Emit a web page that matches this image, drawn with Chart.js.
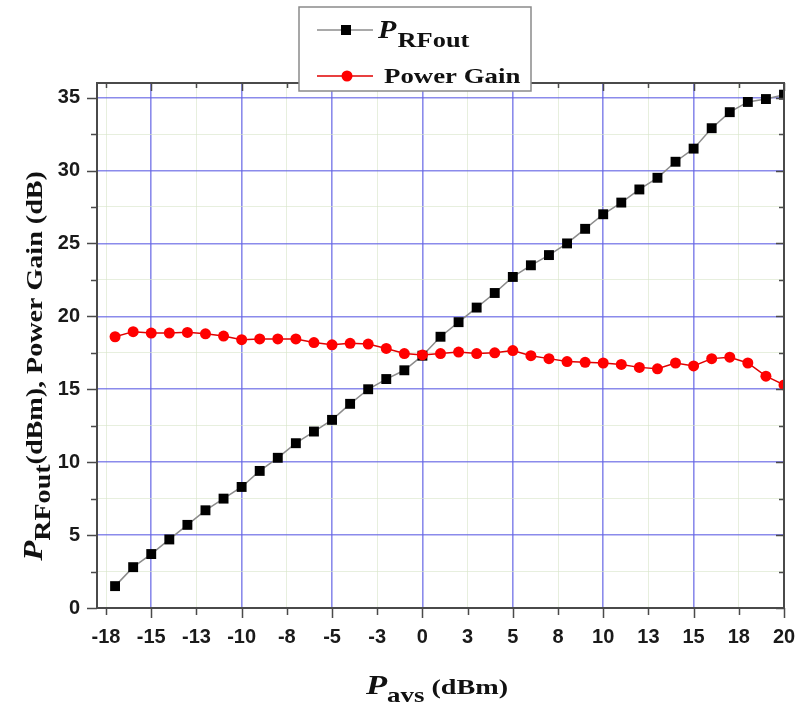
<!DOCTYPE html>
<html>
<head>
<meta charset="utf-8">
<script src="https://cdn.jsdelivr.net/npm/chart.js@4"></script>
<style>
  html, body { margin: 0; padding: 0; background: #ffffff; }
  canvas { display: block; }
</style>
</head>
<body>
<canvas id="chart" width="798" height="710"></canvas>
<script>
// Available source power (dBm)
const pavs = [-17, -16, -15, -14, -13, -12, -11, -10, -9, -8, -7, -6, -5,
              -4, -3, -2, -1, 0,
              1, 2, 3, 4, 5, 6, 7, 8, 9,
              10, 11, 12, 13, 14, 15, 16, 17, 18, 19, 20];

// Output RF power (dBm)
const pRFout = [1.5, 2.8, 3.7, 4.7, 5.7, 6.7, 7.5, 8.3, 9.4, 10.3, 11.3, 12.1, 12.9,
                14.0, 15.0, 15.7, 16.3, 17.3,
                18.6, 19.6, 20.6, 21.6, 22.7, 23.5, 24.2, 25.0, 26.0,
                27.0, 27.8, 28.7, 29.5, 30.6, 31.5, 32.9, 34.0, 34.7, 34.9, 35.2];

// Power gain (dB)
const powerGain = [18.6, 18.95, 18.85, 18.85, 18.9, 18.8, 18.65, 18.4, 18.45, 18.45, 18.45, 18.2, 18.05,
                   18.15, 18.1, 17.8, 17.45, 17.35,
                   17.45, 17.55, 17.45, 17.5, 17.65, 17.3, 17.1, 16.9, 16.85,
                   16.8, 16.7, 16.5, 16.4, 16.8, 16.6, 17.1, 17.2, 16.8, 15.9, 15.3];

// Axis tick positions
const xTickValues = [-17.5, -15, -12.5, -10, -7.5, -5, -2.5, 0, 2.5, 5, 7.5, 10, 12.5, 15, 17.5, 20];
const yTickValues = [0, 2.5, 5, 7.5, 10, 12.5, 15, 17.5, 20, 22.5, 25, 27.5, 30, 32.5, 35];

const AXIS = '#4a4a4a';
const GRID_MAJOR = 'rgba(100, 100, 228, 0.75)';
const GRID_MINOR = 'rgba(215, 228, 200, 0.6)';
const SERIF = '"Liberation Serif", "Times New Roman", serif';
const SANS = '"Liberation Sans", Arial, sans-serif';

// Round half away from zero (e.g. -17.5 -> -18, 12.5 -> 13)
function roundLabel(v) {
  return String(Math.sign(v) * Math.round(Math.abs(v)));
}
function isMajor(v) { return Math.abs(v % 5) < 1e-9; }

// Draws a run of text pieces (normal / italic / subscript) with an optional horizontal stretch
function drawRich(ctx, parts, x, y, sx) {
  ctx.save();
  let total = 0;
  parts.forEach(p => { ctx.font = p.font; total += ctx.measureText(p.text).width; });
  ctx.translate(x, y);
  ctx.scale(sx, 1);
  let cx = -total / 2;
  ctx.textBaseline = 'alphabetic';
  ctx.textAlign = 'left';
  ctx.fillStyle = '#111';
  parts.forEach(p => {
    ctx.font = p.font;
    ctx.fillText(p.text, cx, p.dy || 0);
    cx += ctx.measureText(p.text).width;
  });
  ctx.restore();
}

const decorPlugin = {
  id: 'decor',
  afterDraw(chart) {
    const ctx = chart.ctx;
    const a = chart.chartArea;
    const xs = chart.scales.x, ys = chart.scales.y;

    // Frame (top and right sides)
    ctx.save();
    ctx.strokeStyle = AXIS;
    ctx.lineWidth = 2;
    ctx.beginPath();
    ctx.moveTo(a.left, a.top);
    ctx.lineTo(a.right, a.top);
    ctx.lineTo(a.right, a.bottom);
    ctx.stroke();

    // Tick marks
    ctx.lineWidth = 1.5;
    ctx.beginPath();
    xTickValues.forEach(v => {
      const px = Math.round(xs.getPixelForValue(v)) + 0.5;
      const out = isMajor(v) ? 10 : 7;
      ctx.moveTo(px, a.bottom);
      ctx.lineTo(px, a.bottom + out);
      ctx.moveTo(px, a.top);
      ctx.lineTo(px, a.top + (isMajor(v) ? 8 : 5));
    });
    yTickValues.forEach(v => {
      const py = Math.round(ys.getPixelForValue(v)) + 0.5;
      const out = isMajor(v) ? 10 : 6;
      ctx.moveTo(a.left, py);
      ctx.lineTo(a.left - out, py);
      ctx.moveTo(a.right, py);
      ctx.lineTo(a.right - (isMajor(v) ? 8 : 5), py);
    });
    ctx.stroke();
    ctx.restore();

    // Legend box
    ctx.save();
    ctx.fillStyle = '#ffffff';
    ctx.strokeStyle = '#8a8a8a';
    ctx.lineWidth = 1.5;
    ctx.fillRect(299, 7, 232, 84);
    ctx.strokeRect(299, 7, 232, 84);

    // entry 1: output power
    ctx.strokeStyle = '#8c8c8c';
    ctx.lineWidth = 1.5;
    ctx.beginPath(); ctx.moveTo(317, 30); ctx.lineTo(373, 30); ctx.stroke();
    ctx.fillStyle = '#000';
    ctx.fillRect(341, 25, 10, 10);
    // entry 2: gain
    ctx.strokeStyle = '#e00000';
    ctx.beginPath(); ctx.moveTo(317, 76); ctx.lineTo(373, 76); ctx.stroke();
    ctx.fillStyle = '#ff0000';
    ctx.beginPath(); ctx.arc(347, 76, 5.5, 0, Math.PI * 2); ctx.fill();
    ctx.restore();

    ctx.save();
    ctx.textAlign = 'left';
    ctx.textBaseline = 'alphabetic';
    ctx.fillStyle = '#111';
    ctx.save();
    ctx.translate(378, 38);
    ctx.scale(1.2, 1);
    ctx.font = 'italic bold 25px ' + SERIF;
    ctx.fillText('P', 0, 0);
    const pw = ctx.measureText('P').width;
    ctx.font = 'bold 22px ' + SERIF;
    ctx.fillText('RFout', pw + 1, 9);
    ctx.restore();
    ctx.save();
    ctx.translate(384, 83);
    ctx.scale(1.22, 1);
    ctx.font = 'bold 22px ' + SERIF;
    ctx.fillText('Power Gain', 0, 0);
    ctx.restore();
    ctx.restore();

    // X axis title
    drawRich(ctx, [
      { text: 'P', font: 'italic bold 27px ' + SERIF },
      { text: 'avs', font: 'bold 21px ' + SERIF, dy: 8 },
      { text: ' (dBm)', font: 'bold 22px ' + SERIF }
    ], 437, 694, 1.28);

    // Y axis title
    ctx.save();
    ctx.translate(42, 366);
    ctx.rotate(-Math.PI / 2);
    drawRich(ctx, [
      { text: 'P', font: 'italic bold 28px ' + SERIF },
      { text: 'RFout', font: 'bold 24px ' + SERIF, dy: 8 },
      { text: '(dBm), Power Gain (dB)', font: 'bold 24px ' + SERIF }
    ], 0, 0, 1.17);
    ctx.restore();
  }
};

const ctx = document.getElementById('chart').getContext('2d');
new Chart(ctx, {
  type: 'scatter',
  data: {
    datasets: [
      {
        label: 'Power Gain',
        data: pavs.map((x, i) => ({ x, y: powerGain[i] })),
        showLine: true,
        borderColor: '#e00000',
        borderWidth: 1.5,
        backgroundColor: '#ff0000',
        pointBackgroundColor: '#ff0000',
        pointBorderColor: '#ff0000',
        pointBorderWidth: 0,
        pointStyle: 'circle',
        pointRadius: 5.5,
        order: 0
      },
      {
        label: 'PRFout',
        data: pavs.map((x, i) => ({ x, y: pRFout[i] })),
        showLine: true,
        borderColor: '#8c8c8c',
        borderWidth: 1.5,
        backgroundColor: '#000000',
        pointBackgroundColor: '#000000',
        pointBorderColor: '#000000',
        pointBorderWidth: 0,
        pointStyle: 'rect',
        pointRadius: 7,
        order: 1
      }
    ]
  },
  options: {
    responsive: false,
    animation: false,
    devicePixelRatio: 1,
    layout: { padding: { top: 83, right: 14, left: 0, bottom: 0 } },
    plugins: {
      legend: { display: false },
      tooltip: { enabled: false }
    },
    scales: {
      x: {
        type: 'linear',
        min: -18,
        max: 20,
        afterBuildTicks(scale) {
          scale.ticks = xTickValues.map(v => ({ value: v }));
        },
        afterFit(scale) {
          scale.height = 102;
          scale.paddingLeft = 0;
          scale.paddingRight = 0;
        },
        ticks: {
          padding: 17,
          autoSkip: false,
          maxRotation: 0,
          color: '#1a1a1a',
          font: { family: SANS, size: 20, weight: 'bold' },
          callback: v => roundLabel(v)
        },
        grid: {
          drawTicks: false,
          lineWidth: ctx => isMajor(ctx.tick ? ctx.tick.value : 0) ? 1.6 : 1,
          color: ctx => {
            const v = ctx.tick ? ctx.tick.value : 0;
            return isMajor(v) ? GRID_MAJOR : GRID_MINOR;
          }
        },
        border: { display: true, color: AXIS, width: 2 }
      },
      y: {
        type: 'linear',
        min: 0,
        max: 36,
        afterBuildTicks(scale) {
          scale.ticks = yTickValues.map(v => ({ value: v }));
        },
        afterFit(scale) {
          scale.width = 97;
          scale.paddingTop = 0;
          scale.paddingBottom = 0;
        },
        ticks: {
          padding: 17,
          autoSkip: false,
          color: '#1a1a1a',
          font: { family: SANS, size: 20, weight: 'bold' },
          callback: v => isMajor(v) ? String(v) : ''
        },
        grid: {
          drawTicks: false,
          lineWidth: ctx => isMajor(ctx.tick ? ctx.tick.value : 0) ? 1.6 : 1,
          color: ctx => {
            const v = ctx.tick ? ctx.tick.value : 0;
            if (v === 0) return 'rgba(0,0,0,0)';
            return isMajor(v) ? GRID_MAJOR : GRID_MINOR;
          }
        },
        border: { display: true, color: AXIS, width: 2 }
      }
    }
  },
  plugins: [decorPlugin]
});
</script>
</body>
</html>
